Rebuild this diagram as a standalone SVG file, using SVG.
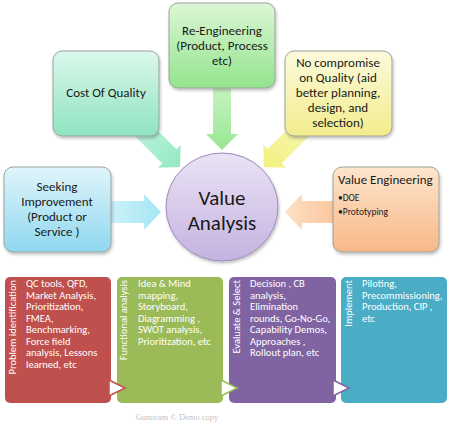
<svg xmlns="http://www.w3.org/2000/svg" width="474" height="434" viewBox="0 0 474 434">
<defs>
<linearGradient id="gReng" x1="0" y1="0" x2="0" y2="1"><stop offset="0" stop-color="#dcf7d6"/><stop offset="1" stop-color="#93e38d"/></linearGradient>
<linearGradient id="gCost" x1="0" y1="0" x2="0" y2="1"><stop offset="0" stop-color="#dbf8ec"/><stop offset="1" stop-color="#8fe3c1"/></linearGradient>
<linearGradient id="gNoc" x1="0" y1="0" x2="0" y2="1"><stop offset="0" stop-color="#fcfadc"/><stop offset="1" stop-color="#f2ec8c"/></linearGradient>
<linearGradient id="gSeek" x1="0" y1="0" x2="0" y2="1"><stop offset="0" stop-color="#e0f5fb"/><stop offset="1" stop-color="#8fd8f0"/></linearGradient>
<linearGradient id="gVE" x1="0" y1="0" x2="0" y2="1"><stop offset="0" stop-color="#fde5cc"/><stop offset="1" stop-color="#f8b888"/></linearGradient>
<linearGradient id="gVA" x1="0" y1="0" x2="0" y2="1"><stop offset="0" stop-color="#eae2f5"/><stop offset="1" stop-color="#c5b3e0"/></linearGradient>
<linearGradient id="aGreen" x1="0" y1="0" x2="1" y2="0"><stop offset="0" stop-color="#c6f3c2"/><stop offset="1" stop-color="#98e693"/></linearGradient>
<linearGradient id="aMint" x1="0" y1="0" x2="1" y2="0"><stop offset="0" stop-color="#c3f5df"/><stop offset="1" stop-color="#93e8c3"/></linearGradient>
<linearGradient id="aYel" x1="0" y1="0" x2="1" y2="0"><stop offset="0" stop-color="#f8f6b8"/><stop offset="1" stop-color="#f3f07e"/></linearGradient>
<linearGradient id="aBlue" x1="0" y1="0" x2="1" y2="0"><stop offset="0" stop-color="#cdf1f8"/><stop offset="1" stop-color="#a6e6f3"/></linearGradient>
<linearGradient id="aOr" x1="0" y1="0" x2="1" y2="0"><stop offset="0" stop-color="#fbc79c"/><stop offset="1" stop-color="#fde0c6"/></linearGradient>
<filter id="sh" x="-10%" y="-10%" width="130%" height="130%"><feDropShadow dx="1" dy="2" stdDeviation="1.5" flood-color="#000" flood-opacity="0.25"/></filter>
</defs>
<style>
.t{font-family:Carlito,Lato,"Liberation Sans",sans-serif;fill:#1a1a1a;font-size:13px;text-anchor:middle}
.box{stroke:#9aa39a;stroke-width:1;filter:url(#sh)}
.w{font-family:Carlito,Lato,"Liberation Sans",sans-serif;fill:#ffffff;font-size:10.5px}
.v{font-family:Carlito,Lato,"Liberation Sans",sans-serif;fill:#ffffff;font-size:10.5px;text-anchor:end;font-weight:300}
.tri{fill:#ffffff;stroke-width:1.5}
</style>
<rect width="474" height="434" fill="#ffffff"/>

<g id="connectors">
  <g transform="translate(222,150) rotate(90)">
    <path d="M-62,-9 L-16,-9 L-16,-16 L0,0 L-16,16 L-16,9 L-62,9 Z" fill="url(#aGreen)"/>
  </g>
  <g transform="translate(180,167) rotate(45)">
    <path d="M-66,-10 L-15,-10 L-15,-16 L0,0 L-15,16 L-15,10 L-66,10 Z" fill="url(#aMint)"/>
  </g>
  <g transform="translate(264,167) rotate(135)">
    <path d="M-66,-10 L-15,-10 L-15,-16 L0,0 L-15,16 L-15,10 L-66,10 Z" fill="url(#aYel)"/>
  </g>
  <g transform="translate(161,212)">
    <path d="M-52,-11 L-17,-11 L-17,-18 L0,0 L-17,18 L-17,11 L-52,11 Z" fill="url(#aBlue)"/>
  </g>
  <g transform="translate(285,212) rotate(180)">
    <path d="M-50,-11 L-17,-11 L-17,-18 L0,0 L-17,18 L-17,11 L-50,11 Z" fill="url(#aOr)"/>
  </g>
</g>

<g id="reengineering">
  <rect class="box" x="169" y="3" width="106" height="85" rx="9" fill="url(#gReng)"/>
  <text class="t" x="222" y="35">Re-Engineering</text>
  <text class="t" x="222" y="50">(Product, Process</text>
  <text class="t" x="222" y="65">etc)</text>
</g>
<g id="costofquality">
  <rect class="box" x="53" y="51" width="106" height="85" rx="9" fill="url(#gCost)"/>
  <text class="t" x="106" y="97">Cost Of Quality</text>
</g>
<g id="nocompromise">
  <rect class="box" x="285" y="51" width="107" height="85" rx="9" fill="url(#gNoc)"/>
  <text class="t" x="338" y="67">No compromise</text>
  <text class="t" x="338" y="82">on Quality (aid</text>
  <text class="t" x="338" y="97">better planning,</text>
  <text class="t" x="338" y="112">design, and</text>
  <text class="t" x="338" y="127">selection)</text>
</g>
<g id="seeking">
  <rect class="box" x="4" y="167" width="107" height="85" rx="9" fill="url(#gSeek)"/>
  <text class="t" x="57" y="191">Seeking</text>
  <text class="t" x="57" y="206">Improvement</text>
  <text class="t" x="57" y="221">(Product or</text>
  <text class="t" x="57" y="236">Service )</text>
</g>
<g id="valueengineering">
  <rect class="box" x="333" y="167" width="106" height="85" rx="9" fill="url(#gVE)"/>
  <text class="t" x="338" y="184" style="text-anchor:start">Value Engineering</text>
  <text class="t" x="338" y="201" style="text-anchor:start;font-size:9.5px">•DOE</text>
  <text class="t" x="338" y="215" style="text-anchor:start;font-size:9.5px">•Prototyping</text>
</g>
<g id="valueanalysis">
  <ellipse cx="222" cy="207" rx="56" ry="54" fill="url(#gVA)" stroke="#9d8bbb" stroke-width="1" filter="url(#sh)"/>
  <text class="t" x="222" y="205" style="font-size:21px">Value</text>
  <text class="t" x="222" y="230" style="font-size:21px">Analysis</text>
</g>

<g id="problem">
  <rect x="5" y="277" width="106" height="126" rx="5" fill="#c0504d"/>
  <text class="v" transform="translate(16,280) rotate(-90)">Problem identification</text>
  <text class="w" x="26" y="287">QC tools, QFD,</text>
  <text class="w" x="26" y="298.5">Market Analysis,</text>
  <text class="w" x="26" y="310">Prioritization,</text>
  <text class="w" x="26" y="321.5">FMEA,</text>
  <text class="w" x="26" y="333">Benchmarking,</text>
  <text class="w" x="26" y="344.5">Force field</text>
  <text class="w" x="26" y="356">analysis, Lessons</text>
  <text class="w" x="26" y="367.5">learned, etc</text>
</g>
<g id="functional">
  <rect x="117" y="277" width="106" height="126" rx="5" fill="#9bbb59"/>
  <text class="v" transform="translate(127,280) rotate(-90)">Functional analysis</text>
  <text class="w" x="138" y="287">Idea &amp; Mind</text>
  <text class="w" x="138" y="298.5">mapping,</text>
  <text class="w" x="138" y="310">Storyboard,</text>
  <text class="w" x="138" y="321.5">Diagramming ,</text>
  <text class="w" x="138" y="333">SWOT analysis,</text>
  <text class="w" x="138" y="344.5">Prioritization, etc</text>
</g>
<g id="evaluate">
  <rect x="229" y="277" width="107" height="126" rx="5" fill="#8064a2"/>
  <text class="v" transform="translate(240,280) rotate(-90)">Evaluate &amp; Select</text>
  <text class="w" x="250" y="287">Decision , CB</text>
  <text class="w" x="250" y="298.5">analysis,</text>
  <text class="w" x="250" y="310">Elimination</text>
  <text class="w" x="250" y="321.5">rounds, Go-No-Go,</text>
  <text class="w" x="250" y="333">Capability  Demos,</text>
  <text class="w" x="250" y="344.5">Approaches ,</text>
  <text class="w" x="250" y="356">Rollout plan, etc</text>
</g>
<g id="implement">
  <rect x="341" y="277" width="106" height="126" rx="5" fill="#4bacc6"/>
  <text class="v" transform="translate(352,280) rotate(-90)">Implement</text>
  <text class="w" x="362" y="287">Piloting,</text>
  <text class="w" x="362" y="298.5">Precommissioning,</text>
  <text class="w" x="362" y="310">Production, CIP ,</text>
  <text class="w" x="362" y="321.5">etc</text>
</g>
<g id="chevrons">
  <path class="tri" d="M109,380 L125,388 L109,396 Z" stroke="#c0504d"/>
  <path class="tri" d="M221,380 L237,388 L221,396 Z" stroke="#9bbb59" fill="#f2f7e6"/>
  <path class="tri" d="M333,380 L349,388 L333,396 Z" stroke="#8064a2"/>
</g>
<text x="177" y="420" text-anchor="middle" font-family="Liberation Serif,serif" font-size="8.5" fill="#c4c4c4">Gumtram © Demo copy</text>
</svg>
